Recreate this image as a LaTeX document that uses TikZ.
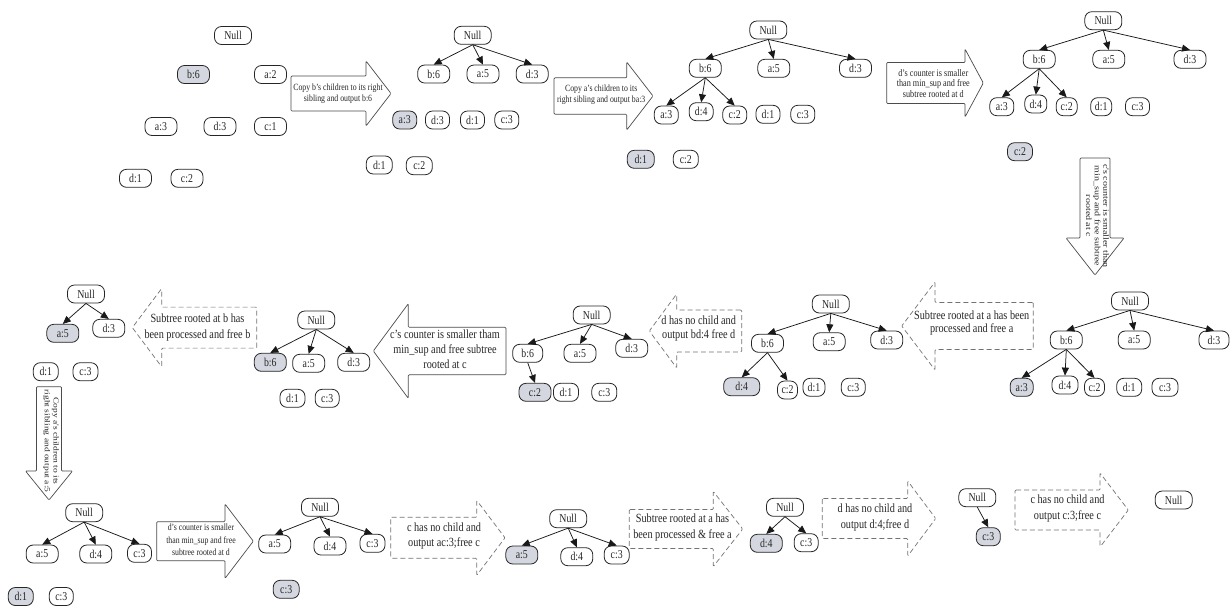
\documentclass[tikz,border=0pt]{standalone}
\usepackage{fontspec}
\usepackage{graphicx}
\setmainfont{Liberation Serif}[FakeStretch=0.82]
\newfontfamily\plainserif{Liberation Serif}
\usetikzlibrary{arrows.meta}
\definecolor{nodegray}{RGB}{212,215,223}
\newcommand{\myharrow}[7]{\draw[#1] (#2,#5-#6) -- (#3,#5-#6) -- (#3,#5-#7) -- (#4,#5) -- (#3,#5+#7) -- (#3,#5+#6) -- (#2,#5+#6) -- cycle;}
\newcommand{\myvarrow}[7]{\draw[#1] (#5-#6,#2) -- (#5-#6,#3) -- (#5-#7,#3) -- (#5,#4) -- (#5+#7,#3) -- (#5+#6,#3) -- (#5+#6,#2) -- cycle;}
\tikzset{
 box/.style={draw=black!85, line width=0.8pt, rounded corners=7pt, minimum height=18pt, inner xsep=2pt, inner ysep=0pt, font=\fontsize{12}{12}\selectfont, fill=white, text=black!85},
 N/.style={box, minimum width=37pt},
 W/.style={box, minimum width=32pt},
 S/.style={box, minimum width=24pt},
 G/.style={fill=nodegray},
 ed/.style={-{Triangle[length=8pt,width=7pt]}, line width=0.75pt, draw=black!90},
 solidarrow/.style={draw=black!70, line width=0.7pt, fill=white, rounded corners=1pt},
 dasharrow/.style={draw=black!55, line width=0.7pt, dash pattern=on 5pt off 3pt, fill=white, rounded corners=1pt},
 atxt/.style={align=center, inner sep=0pt, text=black!85},
 big/.style={atxt, font=\fontsize{12.5}{15}\selectfont},
}
\begin{document}
\begin{tikzpicture}[x=1pt,y=-1pt]
\useasboundingbox[fill=white] (0,0) rectangle (1230,606);

% ---------- arrows (shapes) ----------
\myharrow{solidarrow}{291}{366}{391}{93.5}{17.5}{32.5}
\myharrow{solidarrow}{554}{626.7}{653}{96}{18.2}{34}
\myharrow{solidarrow}{886.7}{965}{983.3}{83}{20.5}{34}
\myvarrow{solidarrow}{158}{238}{275}{1095}{15}{29}
\myharrow{dasharrow}{1033.3}{935}{901.7}{326}{23.5}{44}
\myharrow{dasharrow}{741.7}{676.7}{649.3}{331}{21}{37}
\myharrow{solidarrow}{506}{408.3}{373.3}{351}{23.7}{47.3}
\myharrow{dasharrow}{256.7}{161.7}{132.3}{327.6}{20.5}{39.2}
\myvarrow{solidarrow}{386.7}{471}{500}{49}{12.5}{23.5}
\myharrow{solidarrow}{156.7}{225}{253.3}{541.2}{19.5}{37.2}
\myharrow{dasharrow}{390.7}{476.7}{505}{537.8}{20.5}{37.5}
\myharrow{dasharrow}{629.3}{713.3}{742.7}{529}{19.5}{37.5}
\myharrow{dasharrow}{822.3}{907.7}{935.7}{518.5}{20}{37.5}
\myharrow{dasharrow}{1015}{1100}{1128.3}{510}{20}{37}

% ---------- arrow texts ----------
\node[atxt, font=\fontsize{9.5}{11}\selectfont] (t1) at (338,93.8) {Copy b's children to its right\\sibling and output b:6};
\node[atxt, font=\fontsize{9.5}{11.7}\selectfont] (t2) at (601.2,94.8) {Copy a's children to its\\right sibling and output ba:3};
\node[atxt, font=\fontsize{10}{10.7}\selectfont] (t3) at (933.3,83.3) {d's counter is smaller\\than min\_sup and free\\subtree rooted at d};
\node[rotate=-90, inner sep=0pt, text=black!85] (t4) at (1096.5,216) {\scalebox{1}[0.8]{\plainserif\fontsize{10}{10.8}\selectfont\begin{tabular}{@{}c@{}}c's counter is smaller than\\min\_sup and free subtree\\rooted at c\end{tabular}}};
\node[big, font=\fontsize{12.5}{13.3}\selectfont] (t5) at (971.7,323.3) {Subtree rooted at a has been\\processed and free a};
\node[big, font=\fontsize{12.5}{14.3}\selectfont] (t6) at (698.7,328.8) {d has no child and\\output bd:4 free d};
\node[big] (t7) at (445,349.5) {c's counter is smaller tham\\min\_sup and free subtree\\rooted at c};
\node[big, font=\fontsize{12.5}{15.7}\selectfont] (t8) at (197.5,327.8) {Subtree rooted at b has\\been processed and free b};
\node[rotate=-90, inner sep=0pt, text=black!85] (t9) at (51,441) {\scalebox{1}[0.8]{\plainserif\fontsize{9.5}{11}\selectfont\begin{tabular}{@{}c@{}}Copy a's children to its\\right sibling and output a:5\end{tabular}}};
\node[atxt, font=\fontsize{9.5}{12.3}\selectfont] (t10) at (201,540) {d's counter is smaller\\than min\_sup and free\\subtree rooted at d};
\node[big] (t11) at (444,535.8) {c has no child and\\output ac:3;free c};
\node[big, font=\fontsize{12.5}{15.7}\selectfont] (t12) at (682.5,527.8) {Subtree rooted at a has\\been processed \& free a};
\node[big, font=\fontsize{12.5}{15.7}\selectfont] (t13) at (875,517.2) {d has no child and\\output d:4;free d};
\node[big, font=\fontsize{12.5}{16}\selectfont] (t14) at (1067.5,508.7) {c has no child and\\output c:3;free c};

% ---------- panel 1 ----------
\node[N] (p1n) at (233,35.5) {Null};
\node[W,G] (p1b6) at (193.5,74.5) {b:6};
\node[W] (p1a2) at (270.5,74.5) {a:2};
\node[W] (p1a3) at (161,126.5) {a:3};
\node[W] (p1d3) at (220,126.5) {d:3};
\node[W] (p1c1) at (270.5,126.5) {c:1};
\node[W] (p1d1) at (135.5,178.3) {d:1};
\node[W] (p1c2) at (187,178.3) {c:2};

% ---------- panel 2 ----------
\node[N] (p2n) at (472.7,35.3) {Null};
\node[W] (p2b6) at (433.7,74) {b:6};
\node[W] (p2a5) at (483,74) {a:5};
\node[W] (p2d3) at (532.2,74) {d:3};
\node[S,G] (p2a3) at (404.7,120) {a:3};
\node[S] (p2d3b) at (437.5,120) {d:3};
\node[S] (p2d1) at (472.5,120) {d:1};
\node[S] (p2c3) at (506.8,120) {c:3};
\node[S, minimum width=26pt] (p2d1b) at (379.3,165) {d:1};
\node[S, minimum width=26pt] (p2c2) at (419.3,165.7) {c:2};
\foreach \c in {p2b6,p2a5,p2d3} \draw[ed] (p2n.south) -- (\c.north);

% ---------- panel 3 ----------
\node[N] (p3n) at (768.3,30) {Null};
\node[W] (p3b6) at (705.3,68.3) {b:6};
\node[W] (p3a5) at (773.8,68.3) {a:5};
\node[W] (p3d3) at (855.5,68.3) {d:3};
\node[S] (p3a3) at (666.3,115) {a:3};
\node[S] (p3d4) at (701.2,111.7) {d:4};
\node[S] (p3c2) at (734.7,115) {c:2};
\node[S] (p3d1) at (768,114.3) {d:1};
\node[S] (p3c3) at (802.8,114.3) {c:3};
\node[S,G, minimum width=27pt] (p3d1b) at (640.8,159.3) {d:1};
\node[S, minimum width=25pt] (p3c2b) at (685.8,159.3) {c:2};
\foreach \c in {p3b6,p3a5,p3d3} \draw[ed] (p3n.south) -- (\c.north);
\foreach \c in {p3a3,p3d4,p3c2} \draw[ed] (p3b6.south) -- (\c.north);

% ---------- panel 4 ----------
\node[N] (p4n) at (1103.3,20.7) {Null};
\node[W] (p4b6) at (1039.2,59.3) {b:6};
\node[W] (p4a5) at (1108.8,59.3) {a:5};
\node[W] (p4d3) at (1190,59.3) {d:3};
\node[S] (p4a3) at (1001.8,106.7) {a:3};
\node[S, minimum width=22pt] (p4d4) at (1035.8,104) {d:4};
\node[S, minimum width=21pt] (p4c2) at (1066.7,106.7) {c:2};
\node[S, minimum width=21pt] (p4d1) at (1101.2,106.7) {d:1};
\node[S] (p4c3) at (1137.5,106.7) {c:3};
\node[S,G, minimum width=25pt] (p4c2b) at (1020,151.7) {c:2};
\foreach \c in {p4b6,p4a5,p4d3} \draw[ed] (p4n.south) -- (\c.north);
\foreach \c in {p4a3,p4d4,p4c2} \draw[ed] (p4b6.south) -- (\c.north);

% ---------- panel 5 ----------
\node[N] (p5n) at (1130,301) {Null};
\node[W] (p5b6) at (1066.3,340) {b:6};
\node[W] (p5a5) at (1134.2,340) {a:5};
\node[W, minimum width=30pt] (p5d3) at (1214,340) {d:3};
\node[S,G, minimum width=23pt] (p5a3) at (1021.7,387.3) {a:3};
\node[S, minimum width=26pt] (p5d4) at (1065,385) {d:4};
\node[S, minimum width=20pt] (p5c2) at (1094.5,387.3) {c:2};
\node[S, minimum width=25pt] (p5d1) at (1129.2,387.3) {d:1};
\node[S, minimum width=26pt] (p5c3) at (1165,387.3) {c:3};
\foreach \c in {p5b6,p5a5,p5d3} \draw[ed] (p5n.south) -- (\c.north);
\foreach \c in {p5a3,p5d4,p5c2} \draw[ed] (p5b6.south) -- (\c.north);

% ---------- panel 6 ----------
\node[N] (p6n) at (830.8,304) {Null};
\node[W] (p6b6) at (767.5,343.3) {b:6};
\node[W] (p6a5) at (829.2,341.7) {a:5};
\node[W] (p6d3) at (886.7,340) {d:3};
\node[W,G, minimum width=36pt] (p6d4) at (741.7,386.7) {d:4};
\node[S, minimum width=20pt] (p6c2) at (787.5,390) {c:2};
\node[S, minimum width=22pt] (p6d1) at (814,387.3) {d:1};
\node[S] (p6c3) at (853.3,387.3) {c:3};
\foreach \c in {p6b6,p6a5,p6d3} \draw[ed] (p6n.south) -- (\c.north);
\foreach \c in {p6d4,p6c2} \draw[ed] (p6b6.south) -- (\c.north);

% ---------- panel 7 ----------
\node[N] (p7n) at (591.7,315) {Null};
\node[W, minimum width=30pt] (p7b6) at (527.7,353.3) {b:6};
\node[W] (p7a5) at (580,353.3) {a:5};
\node[W] (p7d3) at (631.7,348.3) {d:3};
\node[W,G] (p7c2) at (535,392.3) {c:2};
\node[S, minimum width=25pt] (p7d1) at (566,392.3) {d:1};
\node[S, minimum width=25pt] (p7c3) at (604.3,392.3) {c:3};
\foreach \c in {p7b6,p7a5,p7d3} \draw[ed] (p7n.south) -- (\c.north);
\draw[ed] (p7b6.south) -- (p7c2.north);

% ---------- panel 8 ----------
\node[N] (p8n) at (316.3,320) {Null};
\node[W,G] (p8b6) at (270.3,362.3) {b:6};
\node[W] (p8a5) at (308.7,363.3) {a:5};
\node[W] (p8d3) at (353.7,362.3) {d:3};
\node[S, minimum width=25pt] (p8d1) at (292.5,398.3) {d:1};
\node[S] (p8c3) at (327.2,398.3) {c:3};
\foreach \c in {p8b6,p8a5,p8d3} \draw[ed] (p8n.south) -- (\c.north);

% ---------- panel 9 ----------
\node[N] (p9n) at (86,294) {Null};
\node[W,G] (p9a5) at (62.8,333.3) {a:5};
\node[W] (p9d3) at (108.8,328.3) {d:3};
\node[S, minimum width=25pt] (p9d1) at (45.8,371.7) {d:1};
\node[S, minimum width=25pt] (p9c3) at (85.5,371.7) {c:3};
\foreach \c in {p9a5,p9d3} \draw[ed] (p9n.south) -- (\c.north);

% ---------- panel 10 ----------
\node[N] (p10n) at (84.2,512.7) {Null};
\node[W] (p10a5) at (42.2,554) {a:5};
\node[W] (p10d4) at (95.8,554) {d:4};
\node[S] (p10c3) at (139.5,553.3) {c:3};
\node[S,G, minimum width=25pt] (p10d1) at (20.8,596.5) {d:1};
\node[S] (p10c3b) at (61.3,596.5) {c:3};
\foreach \c in {p10a5,p10d4,p10c3} \draw[ed] (p10n.south) -- (\c.north);

% ---------- panel 11 ----------
\node[N] (p11n) at (320,507.3) {Null};
\node[W] (p11a5) at (274.7,544) {a:5};
\node[W] (p11d4) at (330,546) {d:4};
\node[S, minimum width=25pt] (p11c3) at (372.5,543.3) {c:3};
\node[S,G, minimum width=26pt] (p11c3b) at (286.2,589.3) {c:3};
\foreach \c in {p11a5,p11d4,p11c3} \draw[ed] (p11n.south) -- (\c.north);

% ---------- panel 12 ----------
\node[N] (p12n) at (568.2,518.7) {Null};
\node[W,G] (p12a5) at (521.8,555) {a:5};
\node[W] (p12d4) at (576.8,556.7) {d:4};
\node[S, minimum width=25pt] (p12c3) at (616.7,555) {c:3};
\foreach \c in {p12a5,p12d4,p12c3} \draw[ed] (p12n.south) -- (\c.north);

% ---------- panel 13 ----------
\node[N] (p13n) at (785,507.3) {Null};
\node[W,G] (p13d4) at (766.3,543.3) {d:4};
\node[S] (p13c3) at (806.2,542.7) {c:3};
\foreach \c in {p13d4,p13c3} \draw[ed] (p13n.south) -- (\c.north);

% ---------- panel 14 ----------
\node[N] (p14n) at (977.3,497.7) {Null};
\node[S,G] (p14c3) at (988.3,536.7) {c:3};
\draw[ed] (p14n.south) -- (p14c3.north);

% ---------- panel 15 ----------
\node[N] (p15n) at (1173.7,500) {Null};
\end{tikzpicture}
\end{document}
